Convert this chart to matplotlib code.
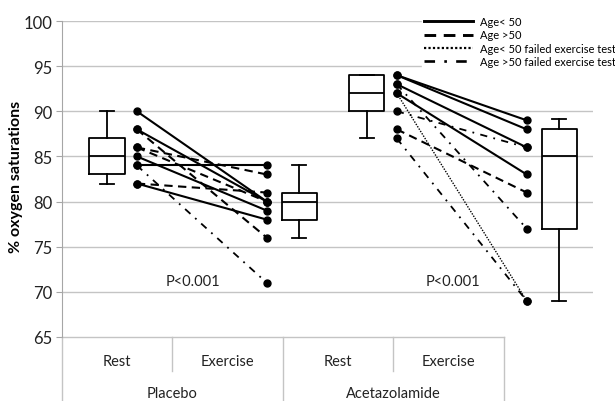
import numpy as np
import matplotlib
matplotlib.use("Agg")
import matplotlib.pyplot as plt
from matplotlib.lines import Line2D
import matplotlib.transforms as mtransforms

plt.rcParams['font.family'] = ['Lato', 'DejaVu Sans']

# data
groups      = ["Placebo", "Acetazolamide"]
conditions  = ["Rest", "Exercise"]

placebo_rest = [90, 88, 85, 84, 82, 88, 86, 86, 82, 84]
placebo_ex   = [80, 80, 79, 84, 78, 76, 83, 80, 81, 71]
placebo_kind = ["lt50", "lt50", "lt50", "lt50", "lt50",
                "gt50", "gt50", "gt50", "gt50", "gt50_fail"]

aceta_rest = [94, 94, 93, 92, 88, 90, 93, 92, 87]
aceta_ex   = [89, 88, 86, 83, 81, 86, 77, 69, 69]
aceta_kind = ["lt50", "lt50", "lt50", "lt50", "gt50",
              "gt50_fail", "gt50_fail", "lt50_fail", "gt50_fail"]

# box stats: low whisker, q1, median, q3, high whisker
placebo_rest_box = [82, 83, 85, 87, 90]
placebo_ex_box   = [76, 78, 80, 81, 84]
aceta_rest_box   = [87, 90, 92, 94, 94]
aceta_ex_box     = [69, 77, 85, 88, 89.2]

kind_labels = {"lt50": "Age< 50", "gt50": "Age >50",
               "lt50_fail": "Age< 50 failed exercise test",
               "gt50_fail": "Age >50 failed exercise test"}
kind_styles = {"lt50": "-", "gt50": (0, (4, 2.6)),
               "lt50_fail": (0, (1, 1)), "gt50_fail": (0, (4, 3.5, 1, 3.5))}
kind_lw = {"lt50": 1.5, "gt50": 1.5, "lt50_fail": 1.0, "gt50_fail": 1.3}

yticks = [65, 70, 75, 80, 85, 90, 95, 100]

# figure
W, H = 615, 402
fig = plt.figure(figsize=(W / 100, H / 100), dpi=100)
ax = fig.add_axes([62 / W, (H - 338) / H, (593 - 62) / W, (338 - 22) / H])

xleft, xright = -0.346, 3.74
ax.set_xlim(xleft, xright)
ax.set_ylim(65, 100)

gridc = "#c4c4c4"
xcat_right = 3.054
for t in yticks[1:]:
    ax.axhline(t, color=gridc, lw=1.0, zorder=0)
ax.plot([xleft, xcat_right], [65, 65], color=gridc, lw=1.0, zorder=1, clip_on=False)

# paired lines
series = [(0, placebo_rest, placebo_ex, placebo_kind),
          (2, aceta_rest, aceta_ex, aceta_kind)]
for off, rest, ex, kind in series:
    x0, x1 = off + 0.23, off + 1.23
    for r, e, k in zip(rest, ex, kind):
        ax.plot([x0, x1], [r, e], color="black", ls=kind_styles[k], lw=kind_lw[k],
                zorder=3)
    ax.plot([x0] * len(rest), rest, "o", color="black", ms=5, zorder=4)
    ax.plot([x1] * len(ex), ex, "o", color="black", ms=5, zorder=4)

# boxes
stats = []
pos = []
for off, rb, eb in [(0, placebo_rest_box, placebo_ex_box), (2, aceta_rest_box, aceta_ex_box)]:
    for p, b in [(off, rb), (off + 1.48, eb)]:
        stats.append(dict(whislo=b[0], q1=b[1], med=b[2], q3=b[3], whishi=b[4], fliers=[]))
        pos.append(p)
lp = dict(color="black", lw=1.3)
ax.bxp(stats, positions=pos, widths=0.27, capwidths=0.11, showfliers=False,
       boxprops=lp, medianprops=lp, whiskerprops=lp, capprops=lp, manage_ticks=False,
       zorder=3)

# p values
for off in [0, 2]:
    ax.text(off + 0.66, 71.2, "P<0.001", ha="center", va="center", fontsize=10.5,
            color="#222222")

# axes styling
for s in ["top", "right", "bottom"]:
    ax.spines[s].set_visible(False)
ax.spines["left"].set_color("#a6a6a6")
ax.set_yticks(yticks)
ax.tick_params(axis="y", length=4, color="#a6a6a6", labelsize=12, labelcolor="#222222", pad=3)
ax.set_xticks([])
ax.set_ylabel("% oxygen saturations", fontsize=11.5, fontweight="bold")
ax.yaxis.set_label_coords((23 - 62) / 531, 0.51)

# category axis
trans = mtransforms.blended_transform_factory(ax.transData, ax.transAxes)
edges = np.linspace(xleft, xcat_right, 5)
for i, e in enumerate(edges):
    full = i % 2 == 0
    ax.plot([e, e], [0, -0.108 if not full else -0.21], color=gridc, lw=1.0,
            transform=trans, clip_on=False)
for i in range(4):
    ax.text((edges[i] + edges[i + 1]) / 2, -0.076, conditions[i % 2], transform=trans,
            ha="center", va="center", fontsize=10.5, color="#222222")
for g in range(2):
    ax.text((edges[2 * g] + edges[2 * g + 2]) / 2, -0.178, groups[g], transform=trans,
            ha="center", va="center", fontsize=10.5, color="#222222")

# legend
handles = [Line2D([0], [0], color="black", ls=kind_styles[k], lw=kind_lw[k] + 0.6,
                  label=kind_labels[k]) for k in ["lt50", "gt50", "lt50_fail", "gt50_fail"]]
leg = fig.legend(handles=handles, loc="upper left", bbox_to_anchor=(422 / W, 1 - 15 / H),
                 frameon=True, fancybox=False, fontsize=8, handlelength=4.4,
                 handletextpad=0.6, labelspacing=0.2, borderpad=0.2, borderaxespad=0)
leg.get_frame().set_edgecolor("white")
leg.get_frame().set_facecolor("white")
leg.get_frame().set_alpha(1)

fig.savefig("out.png", dpi=100)
